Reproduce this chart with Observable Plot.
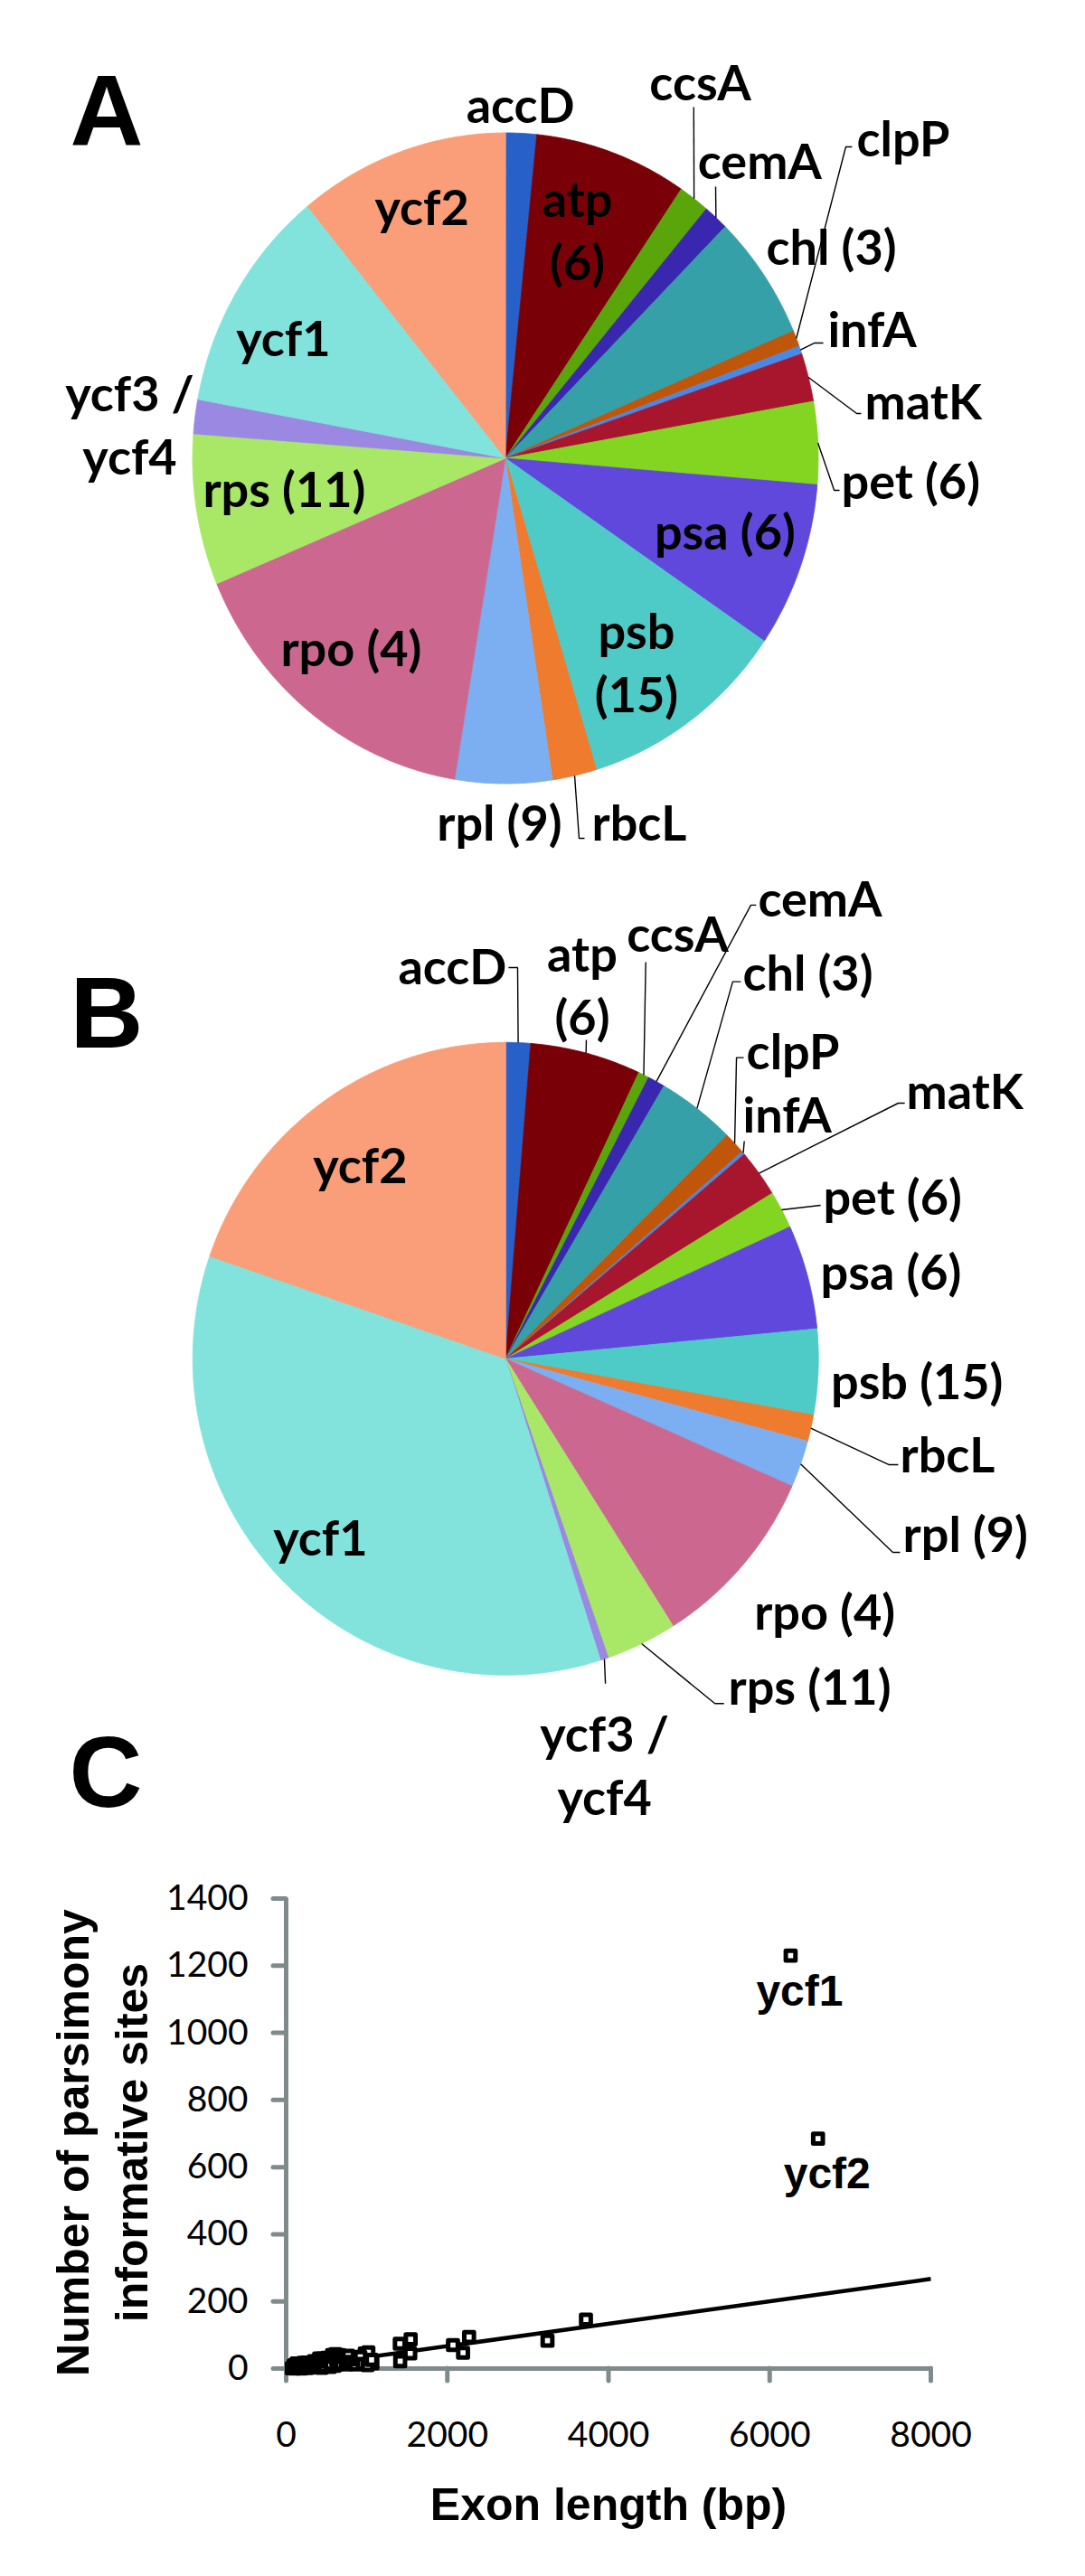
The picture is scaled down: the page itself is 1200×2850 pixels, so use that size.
<!DOCTYPE html>
<html><head><meta charset="utf-8">
<script src="https://cdn.jsdelivr.net/npm/d3@7"></script>
<script src="https://cdn.jsdelivr.net/npm/@observablehq/plot@0.6"></script>
<style>
html,body{margin:0;padding:0;background:#fff;}
#root{position:relative;width:1200px;height:2850px;background:#fff;overflow:hidden;}
.panel{position:absolute;left:0;}
.letter{position:absolute;font-family:"Liberation Sans",Arial,sans-serif;font-weight:bold;font-size:112px;line-height:112px;transform:translateX(-50%);color:#000;}
</style></head><body>
<div id="root">
  <div class="panel" id="pieA" style="top:0px"></div>
  <div class="panel" id="pieB" style="top:950px"></div>
  <div class="panel" id="scat" style="top:2040px"></div>
  <div class="letter" style="left:118px;top:67px">A</div>
  <div class="letter" style="left:118px;top:1065px">B</div>
  <div class="letter" style="left:117px;top:1905px">C</div>
</div>
<script>
// ---------- DATA ----------
const genes = ["accD","atp","ccsA","cemA","chl","clpP","infA","matK","pet","psa","psb","rbcL","rpl","rpo","rps","ycf3/ycf4","ycf1","ycf2"];
const geneColors = ["#2660C8","#7A0008","#5AA60A","#3A27B0","#35A0A8","#C0560A","#4A88E6","#A8162E","#84D422","#6048DC","#4ECBC6","#EE7B2E","#7CAEF2","#CC6890","#A8E866","#9A88E2","#82E3DC","#F99E78"];
// panel A: share of total exon length (%)
const lengthShare = [1.6, 7.9, 1.6, 1.3, 6.2, 0.8, 0.4, 2.4, 4.1, 8.2, 10.8, 2.3, 5.0, 16.1, 7.5, 1.7, 11.2, 10.9];
// panel B: share of parsimony-informative sites (%)
const pisShare = [1.28, 5.72, 0.56, 0.89, 4.06, 1.14, 0.17, 2.42, 1.92, 5.33, 4.36, 1.36, 2.39, 9.42, 3.67, 0.42, 35.17, 19.75];
const labelsA = ["accD","atp\n(6)","ccsA","cemA","chl (3)","clpP","infA","matK","pet (6)","psa (6)","psb\n(15)","rbcL","rpl (9)","rpo (4)","rps (11)","ycf3 /\nycf4","ycf1","ycf2"];
const labelsB = ["accD","atp\n(6)","ccsA","cemA","chl (3)","clpP","infA","matK","pet (6)","psa (6)","psb (15)","rbcL","rpl (9)","rpo (4)","rps (11)","ycf3 /\nycf4","ycf1","ycf2"];

// panel C: exon length (bp) vs number of parsimony informative sites
const exonLength = [100,120,140,160,180,200,220,240,260,280,130,190,250,290,
  360,380,400,420,440,450,470,500,520,540,
  570,590,600,610,630,645,
  700,720,750,780,800,830,850,870,
  975,990,1000,1020,1040,1070,
  70,85,95,105,115,125,135,145,155,165,175,185,195,205,215,230,245,265,275,300,
  315,330,345,370,390,410,430,460,480,510,530,555,580,620,660,680,710,740,770,
  810,860,890,920,950,1010,1060,
  1410,1415,1540,1545,2070,2195,2270,3243,3720,6260,6600];
const pisSites = [2,8,3,12,6,15,4,10,18,7,15,0,2,13,
  20,14,25,8,2,30,18,10,28,5,
  40,25,8,43,12,35,
  20,28,12,22,30,15,33,24,
  45,38,30,48,20,16,
  1,4,9,0,11,5,2,7,14,1,9,3,11,6,17,13,5,11,2,9,
  16,4,22,7,16,30,12,22,6,32,20,14,36,27,40,14,36,25,38,
  20,12,28,35,14,10,26,
  74,22,45,87,70,47,94,83,146,1230,685];
const outlierGenes = ["ycf1","ycf2"];
const outlierLength = [6260, 6600];
const outlierSites = [1230, 685];
const trendX = [0, 8000];
const trendY = [0, 267];
const xTicks = [0,2000,4000,6000,8000];
const yTicks = [0,200,400,600,800,1000,1200,1400];

// ---------- PIE HELPERS ----------
function pieGeometry(values) {
  const total = d3.sum(values);
  const pts = [], mids = [];
  let a = 0;
  values.forEach((v, i) => {
    const a0 = a, a1 = a + v / total * 2 * Math.PI; a = a1;
    const n = Math.max(2, Math.ceil((a1 - a0) / (Math.PI / 360)));
    pts.push({gene: genes[i], x: 0, y: 0});
    for (let k = 0; k <= n; k++) {
      const t = a0 + (a1 - a0) * k / n;
      pts.push({gene: genes[i], x: Math.sin(t), y: Math.cos(t)});
    }
    mids.push((a0 + a1) / 2);
  });
  return {pts, mids};
}

function pieChart(values, labels, layout, xr, yr, height) {
  const {pts, mids} = pieGeometry(values);
  const lab = genes.map((g, i) => ({gene: g, text: labels[i], ...layout[g]}));
  const leaders = [];
  genes.forEach((g, i) => {
    const L = layout[g];
    if (!L.path) return;
    leaders.push({id: g, x: Math.sin(mids[i]), y: Math.cos(mids[i])});
    L.path.forEach(p => leaders.push({id: g, x: p[0], y: p[1]}));
  });
  const textOpts = {x: "x", y: "y", text: "text", fontSize: 54, fontWeight: "bold", fontFamily: "Lato, 'Open Sans', sans-serif", lineHeight: 1.3, lineAnchor: "middle", fill: "black"};
  return Plot.plot({
    width: 1200, height,
    margin: 0,
    style: {background: "transparent", overflow: "visible", fontFamily: "Lato, sans-serif"},
    x: {domain: [-1, 1], range: xr, axis: null},
    y: {domain: [-1, 1], range: yr, axis: null},
    color: {domain: genes, range: geneColors},
    marks: [
      Plot.line(pts, {x: "x", y: "y", z: "gene", fill: "gene", stroke: "gene", strokeWidth: 0.8, curve: "linear-closed"}),
      Plot.line(leaders, {x: "x", y: "y", z: "id", stroke: "black", strokeWidth: 1.4, strokeLinecap: "butt", strokeLinejoin: "miter"}),
      Plot.text(lab.filter(d => d.anchor === "middle"), {...textOpts, textAnchor: "middle"}),
      Plot.text(lab.filter(d => d.anchor === "start"), {...textOpts, textAnchor: "start"})
    ]
  });
}

// ---------- LABEL LAYOUT (unit-circle coordinates) ----------
const layoutA = {
  "accD": {x: 0.048, y: 1.094, anchor: "middle"},
  "atp": {x: 0.230, y: 0.707, anchor: "middle"},
  "ccsA": {x: 0.623, y: 1.163, anchor: "middle", path: [[0.602, 1.079]]},
  "cemA": {x: 0.813, y: 0.921, anchor: "middle", path: [[0.672, 0.835]]},
  "chl": {x: 1.042, y: 0.657, anchor: "middle"},
  "clpP": {x: 1.123, y: 0.990, anchor: "start", path: [[1.088, 0.957], [1.108, 0.957]]},
  "infA": {x: 1.030, y: 0.404, anchor: "start", path: [[0.987, 0.354], [1.016, 0.354]]},
  "matK": {x: 1.149, y: 0.182, anchor: "start", path: [[1.123, 0.1375], [1.137, 0.1375]]},
  "pet": {x: 1.074, y: -0.0625, anchor: "start", path: [[1.051, -0.0986], [1.068, -0.0986]]},
  "psa": {x: 0.702, y: -0.218, anchor: "middle"},
  "psb": {x: 0.419, y: -0.621, anchor: "middle"},
  "rbcL": {x: 0.276, y: -1.1125, anchor: "start", path: [[0.2355, -1.168], [0.2529, -1.168]]},
  "rpl": {x: -0.019, y: -1.1125, anchor: "middle"},
  "rpo": {x: -0.493, y: -0.576, anchor: "middle"},
  "rps": {x: -0.707, y: -0.0875, anchor: "middle"},
  "ycf3/ycf4": {x: -1.201, y: 0.110, anchor: "middle"},
  "ycf1": {x: -0.710, y: 0.376, anchor: "middle"},
  "ycf2": {x: -0.267, y: 0.779, anchor: "middle"}
};
const layoutB = {
  "accD": {x: -0.170, y: 1.2466, anchor: "middle", path: [[0.0384, 1.2366], [0.0095, 1.2366]]},
  "atp": {x: 0.245, y: 1.187, anchor: "middle", path: [[0.258, 1.008]]},
  "ccsA": {x: 0.550, y: 1.351, anchor: "middle", path: [[0.448, 1.254]]},
  "cemA": {x: 0.807, y: 1.462, anchor: "start", path: [[0.784, 1.434], [0.801, 1.434]]},
  "chl": {x: 0.758, y: 1.228, anchor: "start", path: [[0.726, 1.192], [0.752, 1.192]]},
  "clpP": {x: 0.770, y: 0.979, anchor: "start", path: [[0.738, 0.952], [0.761, 0.952]]},
  "infA": {x: 0.758, y: 0.779, anchor: "start", path: [[0.763, 0.688]]},
  "matK": {x: 1.281, y: 0.854, anchor: "start", path: [[1.255, 0.808], [1.276, 0.808]]},
  "pet": {x: 1.015, y: 0.519, anchor: "start", path: [[1.007, 0.4851]]},
  "psa": {x: 1.232, y: 0.282, anchor: "middle"},
  "psb": {x: 1.315, y: -0.0634, anchor: "middle"},
  "rbcL": {x: 1.261, y: -0.2949, anchor: "start", path: [[1.226, -0.335], [1.255, -0.335]]},
  "rpl": {x: 1.270, y: -0.546, anchor: "start", path: [[1.238, -0.612], [1.261, -0.612]]},
  "rpo": {x: 1.020, y: -0.792, anchor: "middle"},
  "rps": {x: 0.712, y: -1.030, anchor: "start", path: [[0.669, -1.09], [0.698, -1.09]]},
  "ycf3/ycf4": {x: 0.316, y: -1.278, anchor: "middle", path: [[0.319, -1.027]]},
  "ycf1": {x: -0.592, y: -0.557, anchor: "middle"},
  "ycf2": {x: -0.465, y: 0.620, anchor: "middle"}
};

document.getElementById("pieA").append(
  pieChart(lengthShare, labelsA, layoutA, [212.5, 904.5], [866.5, 146.5], 950));
document.getElementById("pieB").append(
  pieChart(pisShare, labelsB, layoutB, [212.7, 904.7], [902.8, 202.8], 1080));

// ---------- SCATTER ----------
const pts = exonLength.map((x, i) => ({x, y: pisSites[i]}));
const outliers = outlierGenes.map((g, i) => ({g, x: outlierLength[i], y: outlierSites[i]}));
const trend = trendX.map((x, i) => ({x, y: trendY[i]}));
const axisGray = "#7F8B8B";
const boldFont = "'Liberation Sans', Arial, sans-serif";

const scatter = Plot.plot({
  width: 1200, height: 810,
  marginLeft: 316, marginRight: 171, marginTop: 60, marginBottom: 230,
  style: {background: "transparent", overflow: "visible", fontFamily: "Lato, sans-serif"},
  x: {domain: [0, 8000], axis: null},
  y: {domain: [0, 1400], axis: null},
  marks: [
    Plot.axisY({ticks: yTicks, tickSize: 14, tickPadding: 28, stroke: axisGray, strokeWidth: 5, strokeLinecap: "round", fill: "black", fontSize: 39, label: null, tickFormat: d => String(d)}),
    Plot.axisX({ticks: xTicks, tickSize: 14, tickPadding: 45, stroke: axisGray, strokeWidth: 5, strokeLinecap: "round", fill: "black", fontSize: 39, label: null, tickFormat: d => String(d)}),
    Plot.ruleX([0], {y1: 0, y2: 1400, stroke: axisGray, strokeWidth: 5}),
    Plot.ruleY([0], {x1: 0, x2: 8000, stroke: axisGray, strokeWidth: 5}),
    Plot.line(trend, {x: "x", y: "y", stroke: "black", strokeWidth: 4.5, strokeLinecap: "butt"}),
    Plot.dot(pts, {x: "x", y: "y", symbol: "square", r: 6, stroke: "black", strokeWidth: 5, fill: "white", strokeLinejoin: "round"}),
    Plot.text(outliers, {x: "x", y: "y", text: "g", dx: 10, dy: 40, fontSize: 48, fontWeight: "bold", fontFamily: boldFont, fill: "black"}),
    Plot.text(["Exon length (bp)"], {frameAnchor: "bottom", dy: 151, text: d => d, fontSize: 50, fontWeight: "bold", fontFamily: boldFont, lineAnchor: "middle", fill: "black"}),
    Plot.text(["Number of parsimony\ninformative sites"], {frameAnchor: "left", dx: -206.5, dy: 10, rotate: -90, text: d => d, fontSize: 50, fontWeight: "bold", fontFamily: boldFont, lineHeight: 1.3, lineAnchor: "middle", textAnchor: "middle", fill: "black"})
  ]
});
document.getElementById("scat").append(scatter);
</script>
</body></html>
